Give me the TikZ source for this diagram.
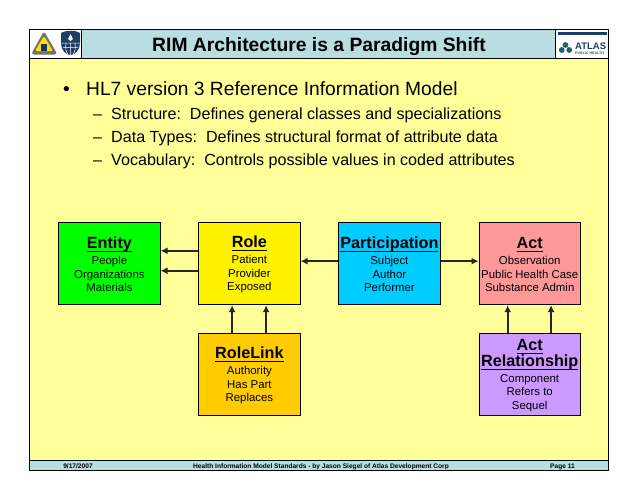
\documentclass[tikz,border=0pt]{standalone}
\usepackage{fontspec}
\setmainfont{Liberation Sans}
\usetikzlibrary{arrows.meta}
\definecolor{pale}{RGB}{255,255,153}
\definecolor{band}{RGB}{184,222,226}
\definecolor{navy}{RGB}{28,62,100}
\definecolor{teal}{RGB}{35,95,110}
\newcommand{\hd}[1]{\raisebox{0pt}[13pt][0pt]{\setbox0=\hbox{\fontsize{16.2}{18}\selectfont\bfseries #1}\rlap{\copy0}\rule[-3.4pt]{\wd0}{1pt}}}
\tikzset{
 cbox/.style={draw=black,line width=0.9pt,minimum width=101.5pt,minimum height=82pt,inner sep=0pt,anchor=north west,align=center,font=\fontsize{11.4}{13.5}\selectfont},
 link/.style={draw=black!85,line width=1.9pt,-{Latex[length=7pt,width=7pt]}},
 frame/.style={draw=black,line width=0.9pt},
 t1/.style={anchor=base west,inner sep=0pt,font=\fontsize{19.2}{22}\selectfont},
 t2/.style={anchor=base west,inner sep=0pt,font=\fontsize{16.1}{19}\selectfont},
 foot/.style={anchor=base,inner sep=0pt,font=\fontsize{6.6}{8}\selectfont\bfseries}
}
\begin{document}
\begin{tikzpicture}[x=1pt,y=-1pt]
\useasboundingbox (0,0) rectangle (638,493);
\fill[white] (0,0) rectangle (638,493);
\fill[pale] (29.5,58) rectangle (608,460);
\fill[band] (81,29.5) rectangle (555.7,58);
\fill[band] (29.5,460) rectangle (608,470.5);
\draw[frame] (29.5,29.5) rectangle (608,470.5);
\draw[frame] (29.5,58) -- (608,58);
\draw[frame] (29.5,460) -- (608,460);
\draw[frame] (81,29.5) -- (81,58);
\draw[frame] (555.7,29.5) -- (555.7,58);
% left logos
\fill[rounded corners=3pt,black!55] (44,31) -- (57.5,54.5) -- (31,54.5) -- cycle;
\fill[rounded corners=2pt,yellow!85!orange] (44,36) -- (53,51) -- (35,51) -- cycle;
\fill[navy!85!black] (41,51) rectangle (47,44);
\fill[navy] (61,33) .. controls (66,30) and (76,30) .. (80,33) -- (80,43) .. controls (80,50) and (75,55) .. (70.5,55) .. controls (66,55) and (61,50) .. (61,43) -- cycle;
\draw[white,line width=0.5pt] (61,43) -- (80,43) (63,47.5) -- (78,47.5) (70.5,43) -- (70.5,55) (66,43) .. controls (65,48) and (66,52) .. (68,54) (75,43) .. controls (76,48) and (75,52) .. (73,54);
\fill[white] (70.5,34) -- (73,39) -- (70.5,41) -- (68,39) -- cycle;
% right logo
\fill[navy] (557.5,31.5) rectangle (607,35);
\foreach \p in {(565.5,45),(561.8,50),(569.2,50)} \fill[teal] \p circle (2.9pt);
\node[anchor=base west,inner sep=0pt,text=navy,font=\fontsize{9.5}{10}\selectfont\bfseries] at (575,49) {ATLAS};
\node[anchor=base west,inner sep=0pt,text=teal,font=\fontsize{3.6}{4}\selectfont\bfseries] at (575,54) {PUBLIC HEALTH};
% title
\node[inner sep=0pt,font=\fontsize{19.3}{22}\selectfont\bfseries,anchor=base] (title) at (319,51) {RIM Architecture is a Paradigm Shift};
% text
\node[t1] (b0) at (63,95.5) {•};
\node[t1] (b1) at (86,95.5) {HL7 version 3 Reference Information Model};
\node[t2] (d1) at (93,119) {–};
\node[t2] (l1) at (111,119) {Structure:\ \ Defines general classes and specializations};
\node[t2] (d2) at (93,142) {–};
\node[t2] (l2) at (111,142) {Data Types:\ \ Defines structural format of attribute data};
\node[t2] (d3) at (93,165) {–};
\node[t2] (l3) at (111,165) {Vocabulary:\ \ Controls possible values in coded attributes};
% boxes
\node[cbox,fill={rgb,255:red,0;green,255;blue,0}] (entity) at (58.2,222.3) {\hd{Entity}\\[3pt]People\\Organizations\\Materials};
\node[cbox,fill=yellow] (role) at (198.2,222.3) {\hd{Role}\\[3pt]Patient\\Provider\\Exposed};
\node[cbox,fill={rgb,255:red,0;green,204;blue,255}] (part) at (338.2,222.3) {\hd{Participation}\\[3pt]Subject\\Author\\Performer};
\node[cbox,fill={rgb,255:red,255;green,153;blue,153}] (act) at (478.5,222.3) {\hd{Act}\\[3pt]Observation\\Public Health Case\\Substance Admin};
\node[cbox,fill={rgb,255:red,255;green,204;blue,0}] (rolelink) at (198.2,333.3) {\hd{RoleLink}\\[3pt]Authority\\Has Part\\Replaces};
\node[cbox,fill={rgb,255:red,204;green,153;blue,255}] (actrel) at (478.5,333.3) {\hd{Act}\\[2pt]\hd{Relationship}\\[2.5pt]Component\\Refers to\\Sequel};
% connectors
\draw[link] ([yshift=12.9pt]role.west) -- ([yshift=12.9pt]role.west -| entity.east);
\draw[link] ([yshift=-7pt]role.west) -- ([yshift=-7pt]role.west -| entity.east);
\draw[link] ([yshift=2.6pt]part.west) -- ([yshift=2.6pt]role.east);
\draw[link] ([yshift=2.6pt]part.east) -- ([yshift=2.6pt]act.west);
\draw[link] ([xshift=-17.3pt]rolelink.north) -- ([xshift=-17.3pt]role.south);
\draw[link] ([xshift=16.7pt]rolelink.north) -- ([xshift=16.7pt]role.south);
\draw[link] ([xshift=-22pt]actrel.north) -- ([xshift=-22pt]act.south);
\draw[link] ([xshift=21.4pt]actrel.north) -- ([xshift=21.4pt]act.south);
% footer
\node[foot] (f1) at (78,468.6) {9/17/2007};
\node[foot] (f2) at (321,468.6) {Health Information Model Standards - by Jason Siegel of Atlas Development Corp};
\node[foot] (f3) at (562.5,468.6) {Page 11};
\end{tikzpicture}
\end{document}
